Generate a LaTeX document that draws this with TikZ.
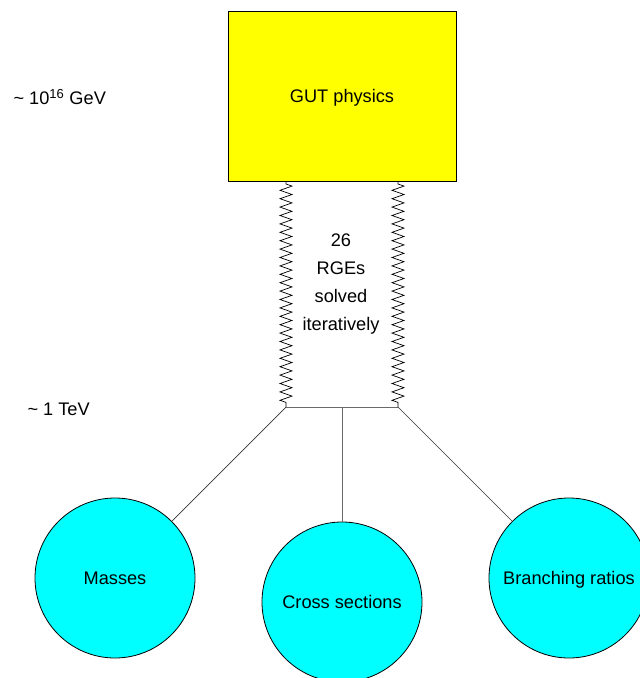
\documentclass[tikz,border=0pt]{standalone}
\usepackage{fontspec}
\setmainfont{Liberation Sans}
\usetikzlibrary{decorations.pathmorphing}
\definecolor{gutyellow}{HTML}{FFFF00}
\definecolor{circcyan}{HTML}{00FFFF}
\definecolor{linegrey}{HTML}{6A6A6A}
\begin{document}
\begin{tikzpicture}[x=1pt,y=-1pt,
  every node/.style={font=\fontsize{18.2}{28.3}\selectfont},
  gutbox/.style={draw=black,line width=0.9pt,fill=gutyellow,minimum width=228pt,minimum height=170pt,inner sep=0pt,text depth=0pt},
  result/.style={circle,draw=black,line width=0.8pt,fill=circcyan,minimum size=160pt,inner sep=0pt,text depth=0pt},
  spring/.style={draw=black,line width=0.7pt,decorate,decoration={zigzag,segment length=8.4pt,amplitude=6pt,pre length=3pt,post length=3pt}},
  branchline/.style={draw=linegrey,line width=1pt},
  leg/.style={draw=black!80,line width=0.7pt}]
\useasboundingbox (0,0) rectangle (640,678);
\node[gutbox] (gut) at (342,96) {GUT physics};
\node[anchor=west] (ehigh) at (10,97) {\textasciitilde{} 10\textsuperscript{\fontsize{13}{13}\selectfont 16} GeV};
\node[anchor=west] (elow) at (24,409) {\textasciitilde{} 1 TeV};
\node[align=center] (rge) at (341,284) {26\\RGEs\\solved\\iteratively};
\coordinate (tl) at (286,181);
\coordinate (tr) at (398,181);
\coordinate (jl) at (286,407);
\coordinate (jr) at (398,407);
\coordinate (jm) at (342,407);
\node[result] (masses) at (115,578) {Masses};
\node[result] (cross) at (342,602) {Cross sections};
\node[result] (branch) at (569,578) {Branching ratios};
\draw[spring] (tl) -- (jl);
\draw[spring] (tr) -- (jr);
\draw[branchline] (jl) -- (jr);
\draw[branchline] (jm) -- (cross);
\draw[leg] (jl) -- (masses);
\draw[leg] (jr) -- (branch);
\end{tikzpicture}
\end{document}
